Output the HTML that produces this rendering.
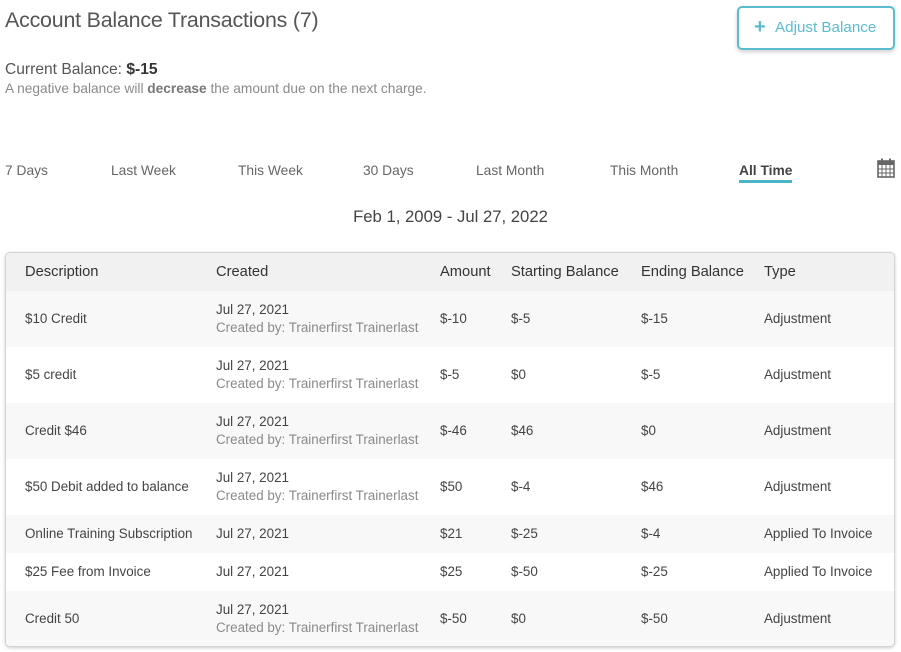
<!DOCTYPE html>
<html><head><meta charset="utf-8">
<style>
*{margin:0;padding:0;box-sizing:border-box}
body{width:901px;height:652px;background:#fff;font-family:"Liberation Sans",Arial,sans-serif;color:#444;position:relative;overflow:hidden}
.a{position:absolute;white-space:nowrap}
.title{left:5px;top:8px;font-size:21.4px;color:#555;letter-spacing:-0.2px}
.btn{left:737px;top:6px;width:158px;height:44px;border:2px solid #5bbccf;border-radius:5px;box-shadow:0 2px 4px rgba(0,0,0,0.18);color:#5bbccf;font-size:15.2px}
.btn .p{position:absolute;left:15px;top:9px;font-size:20px;font-weight:bold;line-height:20px}
.btn .t{position:absolute;left:36px;top:12px;line-height:16px}
.cb{left:5px;top:61px;font-size:15.6px;color:#555}
.sub{left:5px;top:81px;font-size:13.7px;color:#8a8a8a}
.tab{top:162px;font-size:13.8px;color:#666;line-height:17px}
.range{left:0;width:901px;text-align:center;top:207px;font-size:16.7px;color:#444}
.tbl{left:5px;top:252px;width:890px;height:395px;border:1px solid #d4d4d4;border-radius:5px;box-shadow:0 1px 3px rgba(0,0,0,0.2);overflow:hidden;background:#fff}
.row{position:absolute;left:0;width:890px}
.c{position:absolute;font-size:13.4px;color:#444;white-space:nowrap;line-height:16px}
.s{color:#8a8a8a}
.h .c{font-size:14.7px;color:#333}
</style></head><body>
<div class="a title">Account Balance Transactions (7)</div>
<div class="a btn"><span class="p">+</span><span class="t">Adjust Balance</span></div>
<div class="a cb">Current Balance: <b style="color:#333">$-15</b></div>
<div class="a sub">A negative balance will <b style="color:#777">decrease</b> the amount due on the next charge.</div>

<div class="a tab" style="left:5px">7 Days</div>
<div class="a tab" style="left:111px">Last Week</div>
<div class="a tab" style="left:238px">This Week</div>
<div class="a tab" style="left:363px">30 Days</div>
<div class="a tab" style="left:476px">Last Month</div>
<div class="a tab" style="left:610px">This Month</div>
<div class="a tab" style="left:739px;font-weight:bold;color:#444">All Time</div>
<div class="a" style="left:739px;top:180px;width:53px;height:3px;background:#4ab5c8"></div>
<svg class="a" style="left:877px;top:158px" width="18" height="20" viewBox="0 0 18 20">
<rect x="1" y="3" width="16" height="16" fill="none" stroke="#666" stroke-width="1.6"/>
<rect x="1" y="3" width="16" height="4" fill="#666"/>
<rect x="4" y="0.5" width="2" height="4" fill="#666"/><rect x="12" y="0.5" width="2" height="4" fill="#666"/>
<line x1="1" y1="11" x2="17" y2="11" stroke="#666" stroke-width="1"/>
<line x1="1" y1="15" x2="17" y2="15" stroke="#666" stroke-width="1"/>
<line x1="5" y1="7" x2="5" y2="19" stroke="#666" stroke-width="1"/>
<line x1="9" y1="7" x2="9" y2="19" stroke="#666" stroke-width="1"/>
<line x1="13" y1="7" x2="13" y2="19" stroke="#666" stroke-width="1"/>
</svg>
<div class="a range">Feb 1, 2009 - Jul 27, 2022</div>

<div class="a tbl">
 <div class="row h" style="top:0;height:38px;background:#f1f1f1">
  <div class="c" style="left:19px;top:11px">Description</div>
  <div class="c" style="left:210px;top:11px">Created</div>
  <div class="c" style="left:434px;top:11px">Amount</div>
  <div class="c" style="left:505px;top:11px">Starting Balance</div>
  <div class="c" style="left:635px;top:11px">Ending Balance</div>
  <div class="c" style="left:758px;top:11px">Type</div>
 </div>
 <div class="row" style="top:38px;height:56px;background:#f8f8f8">
  <div class="c" style="left:19px;top:20px">$10 Credit</div>
  <div class="c" style="left:210px;top:11px">Jul 27, 2021</div>
  <div class="c s" style="left:210px;top:29px">Created by: Trainerfirst Trainerlast</div>
  <div class="c" style="left:434px;top:20px">$-10</div>
  <div class="c" style="left:505px;top:20px">$-5</div>
  <div class="c" style="left:635px;top:20px">$-15</div>
  <div class="c" style="left:758px;top:20px">Adjustment</div>
 </div>
 <div class="row" style="top:94px;height:56px;background:#fff">
  <div class="c" style="left:19px;top:20px">$5 credit</div>
  <div class="c" style="left:210px;top:11px">Jul 27, 2021</div>
  <div class="c s" style="left:210px;top:29px">Created by: Trainerfirst Trainerlast</div>
  <div class="c" style="left:434px;top:20px">$-5</div>
  <div class="c" style="left:505px;top:20px">$0</div>
  <div class="c" style="left:635px;top:20px">$-5</div>
  <div class="c" style="left:758px;top:20px">Adjustment</div>
 </div>
 <div class="row" style="top:150px;height:56px;background:#f8f8f8">
  <div class="c" style="left:19px;top:20px">Credit $46</div>
  <div class="c" style="left:210px;top:11px">Jul 27, 2021</div>
  <div class="c s" style="left:210px;top:29px">Created by: Trainerfirst Trainerlast</div>
  <div class="c" style="left:434px;top:20px">$-46</div>
  <div class="c" style="left:505px;top:20px">$46</div>
  <div class="c" style="left:635px;top:20px">$0</div>
  <div class="c" style="left:758px;top:20px">Adjustment</div>
 </div>
 <div class="row" style="top:206px;height:56px;background:#fff">
  <div class="c" style="left:19px;top:20px">$50 Debit added to balance</div>
  <div class="c" style="left:210px;top:11px">Jul 27, 2021</div>
  <div class="c s" style="left:210px;top:29px">Created by: Trainerfirst Trainerlast</div>
  <div class="c" style="left:434px;top:20px">$50</div>
  <div class="c" style="left:505px;top:20px">$-4</div>
  <div class="c" style="left:635px;top:20px">$46</div>
  <div class="c" style="left:758px;top:20px">Adjustment</div>
 </div>
 <div class="row" style="top:262px;height:38px;background:#f8f8f8">
  <div class="c" style="left:19px;top:11px">Online Training Subscription</div>
  <div class="c" style="left:210px;top:11px">Jul 27, 2021</div>
  <div class="c" style="left:434px;top:11px">$21</div>
  <div class="c" style="left:505px;top:11px">$-25</div>
  <div class="c" style="left:635px;top:11px">$-4</div>
  <div class="c" style="left:758px;top:11px">Applied To Invoice</div>
 </div>
 <div class="row" style="top:300px;height:38px;background:#fff">
  <div class="c" style="left:19px;top:11px">$25 Fee from Invoice</div>
  <div class="c" style="left:210px;top:11px">Jul 27, 2021</div>
  <div class="c" style="left:434px;top:11px">$25</div>
  <div class="c" style="left:505px;top:11px">$-50</div>
  <div class="c" style="left:635px;top:11px">$-25</div>
  <div class="c" style="left:758px;top:11px">Applied To Invoice</div>
 </div>
 <div class="row" style="top:338px;height:57px;background:#f8f8f8">
  <div class="c" style="left:19px;top:20px">Credit 50</div>
  <div class="c" style="left:210px;top:11px">Jul 27, 2021</div>
  <div class="c s" style="left:210px;top:29px">Created by: Trainerfirst Trainerlast</div>
  <div class="c" style="left:434px;top:20px">$-50</div>
  <div class="c" style="left:505px;top:20px">$0</div>
  <div class="c" style="left:635px;top:20px">$-50</div>
  <div class="c" style="left:758px;top:20px">Adjustment</div>
 </div>
</div>
</body></html>
